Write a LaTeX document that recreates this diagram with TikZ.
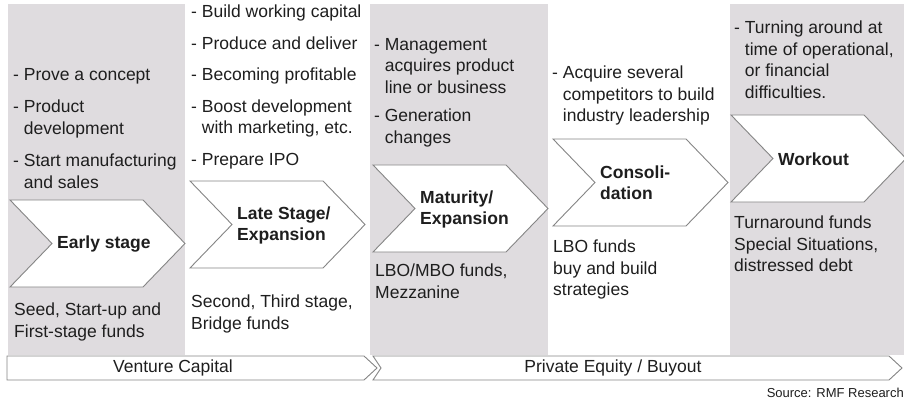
\documentclass[tikz,border=0pt]{standalone}
\usepackage{fontspec}
\setmainfont{Liberation Sans}
\usepackage{tikz}
\usetikzlibrary{positioning}

\definecolor{colgray}{HTML}{DFDCDF}
\definecolor{edgegray}{HTML}{858585}
\definecolor{txt}{HTML}{1E1E1E}

\newcommand{\ind}{\phantom{- }}

\tikzset{
  band/.style={fill=colgray, draw=none},
  chev/.style={fill=white, draw=edgegray, line width=0.9pt, line join=miter},
  bar/.style={fill=white, draw=edgegray, line width=0.9pt},
  stagelbl/.style={font=\fontsize{17.5}{21}\selectfont\bfseries, align=left, text=txt, anchor=west, inner sep=0pt},
  notes/.style={font=\fontsize{17.5}{21.5}\selectfont, align=left, text=txt, anchor=north west, inner sep=0pt},
  barlbl/.style={font=\fontsize{17.5}{20}\selectfont, text=txt, inner sep=0pt}
}

\begin{document}
\begin{tikzpicture}[x=1pt, y=-1pt]
\useasboundingbox (0,0) rectangle (904,406);

% shaded columns
\fill[band] (8,4) rectangle (185,355);
\fill[band] (370,4) rectangle (548,355);
\fill[band] (730,4) rectangle (904,355);

% stage chevrons
\foreach \n/\x/\y/\lbl in {early/10/200/{Early stage},
    late/190/181/{Late Stage/\\Expansion},
    mature/373/165/{Maturity/\\Expansion},
    consol/553/139/{Consoli-\\dation},
    workout/731/115/{Workout}} {
  \draw[chev] (\x,\y) -- ++(133,0) -- ++(42,43.5) -- ++(-42,43.5) -- ++(-133,0) -- ++(42,-43.5) -- cycle;
  \node[stagelbl] (\n) at (\x+47,\y+44) {\lbl};
}

% what happens in each stage
\node[notes] (doEarly) at (13,68) {- Prove a concept\\[11pt]
  - Product\\ \ind development\\[11pt]
  - Start manufacturing\\ \ind and sales};
\node[notes] (doLate) at (191,5) {- Build working capital\\[10pt]
  - Produce and deliver\\[10pt]
  - Becoming profitable\\[10pt]
  - Boost development\\ \ind with marketing, etc.\\[10pt]
  - Prepare IPO};
\node[notes] (doMature) at (374,38) {- Management\\ \ind acquires product\\ \ind line or business\\[7pt]
  - Generation\\ \ind changes};
\node[notes] (doConsol) at (552,66) {- Acquire several\\ \ind competitors to build\\ \ind industry leadership};
\node[notes] (doWork) at (734,21) {- Turning around at\\ \ind time of operational,\\ \ind or financial\\ \ind difficulties.};

% funds per stage
\node[notes] (fEarly) at (14,303) {Seed, Start-up and\\First-stage funds};
\node[notes] (fLate) at (191,295) {Second, Third stage,\\Bridge funds};
\node[notes] (fMature) at (375,264) {LBO/MBO funds,\\Mezzanine};
\node[notes] (fConsol) at (553,240) {LBO funds\\buy and build\\strategies};
\node[notes] (fWork) at (734,216) {Turnaround funds\\Special Situations,\\distressed debt};

% financing bars
\draw[bar] (7,356) -- (364,356) -- (377,368) -- (364,380) -- (7,380) -- cycle;
\draw[bar] (373,356) -- (889,356) -- (902,368) -- (889,380) -- (373,380) -- (381,368) -- cycle;
\node[barlbl] (vc) at (173,368) {Venture Capital};
\node[barlbl] (pe) at (613,368) {Private Equity / Buyout};

\node[font=\fontsize{13}{15}\selectfont, text=txt, anchor=east, inner sep=0pt] (src) at (904,393) {Source: RMF Research};
\end{tikzpicture}
\end{document}
